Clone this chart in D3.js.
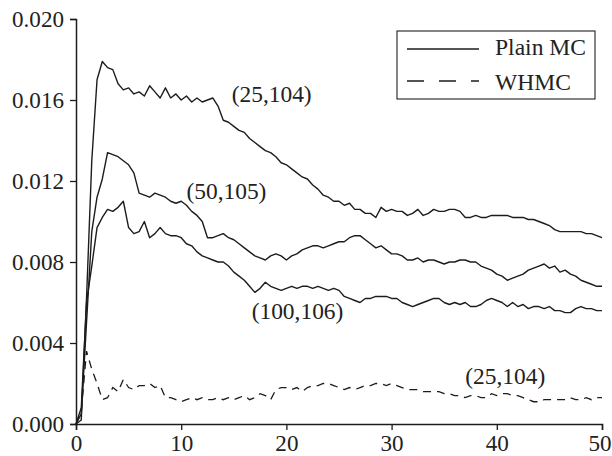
<!DOCTYPE html>
<html>
<head>
<meta charset="utf-8">
<script src="https://cdn.jsdelivr.net/npm/d3@7"></script>
<style>
  html, body { margin: 0; padding: 0; background: #fff; }
  svg { display: block; }
  text { font-family: "Liberation Serif", "Times New Roman", Times, "Nimbus Roman", Tinos, serif; fill: #222; }
</style>
</head>
<body>
<svg id="chart" width="612" height="456"></svg>
<script>
// ---- data ----
const tValues = [
  0,0.5,1,1.5,2,2.5,3,3.5,4,4.5,5,5.5,6,6.5,7,7.5,8,8.5,9,9.5,
  10,10.5,11,11.5,12,12.5,13,13.5,14,14.5,15,15.5,16,16.5,17,17.5,18,18.5,19,19.5,
  20,20.5,21,21.5,22,22.5,23,23.5,24,24.5,25,25.5,26,26.5,27,27.5,28,28.5,29,29.5,
  30,30.5,31,31.5,32,32.5,33,33.5,34,34.5,35,35.5,36,36.5,37,37.5,38,38.5,39,39.5,
  40,40.5,41,41.5,42,42.5,43,43.5,44,44.5,45,45.5,46,46.5,47,47.5,48,48.5,49,49.5,50
];
// Plain MC (25,104)
const plain25 = [
  0,0.0002,0.0062,0.0130,0.0170,0.0179,0.0176,0.0175,0.0168,0.0165,0.0166,0.0163,0.0164,0.0162,0.0167,0.0164,0.0161,0.0166,0.0161,0.0163,
  0.0160,0.0162,0.0159,0.0161,0.0159,0.0160,0.0161,0.0157,0.0150,0.0149,0.0147,0.0145,0.0144,0.0141,0.0139,0.0137,0.0135,0.0134,0.0132,0.0129,
  0.0128,0.0126,0.0124,0.0122,0.0121,0.0118,0.0116,0.0113,0.0112,0.0110,0.0110,0.0108,0.0109,0.0106,0.0106,0.0104,0.0104,0.0102,0.0107,0.0105,
  0.0106,0.0105,0.0105,0.0103,0.0104,0.0106,0.0103,0.0104,0.0106,0.0105,0.0105,0.0106,0.0106,0.0105,0.0102,0.0102,0.0103,0.0102,0.0102,0.0103,
  0.0103,0.0103,0.0103,0.0102,0.0102,0.0102,0.0101,0.0101,0.0100,0.0099,0.0098,0.0096,0.0095,0.0095,0.0095,0.0095,0.0095,0.0094,0.0094,0.0093,0.0092
];
// Plain MC (50,105)
const plain50 = [
  0,0.0005,0.0050,0.0095,0.0112,0.0121,0.0134,0.0133,0.0132,0.0130,0.0128,0.0124,0.0114,0.0113,0.0112,0.0114,0.0113,0.0112,0.0110,0.0109,
  0.0110,0.0108,0.0105,0.0103,0.0100,0.0092,0.0092,0.0093,0.0094,0.0092,0.0091,0.0089,0.0087,0.0085,0.0083,0.0082,0.0081,0.0083,0.0084,0.0083,
  0.0081,0.0083,0.0084,0.0086,0.0087,0.0088,0.0088,0.0087,0.0088,0.0089,0.0090,0.0090,0.0092,0.0093,0.0093,0.0091,0.0089,0.0087,0.0088,0.0086,
  0.0084,0.0084,0.0083,0.0081,0.0081,0.0082,0.0080,0.0081,0.0081,0.0080,0.0079,0.0080,0.0080,0.0081,0.0081,0.0080,0.0080,0.0078,0.0077,0.0076,
  0.0074,0.0073,0.0071,0.0072,0.0073,0.0074,0.0076,0.0077,0.0078,0.0079,0.0077,0.0078,0.0075,0.0076,0.0074,0.0073,0.0071,0.0070,0.0069,0.0068,0.0068
];
// Plain MC (100,106)
const plain100 = [
  0,0.0008,0.0060,0.0078,0.0097,0.0102,0.0106,0.0105,0.0107,0.0110,0.0097,0.0094,0.0095,0.0100,0.0092,0.0094,0.0097,0.0094,0.0093,0.0093,
  0.0092,0.0089,0.0088,0.0085,0.0083,0.0082,0.0081,0.0080,0.0080,0.0078,0.0075,0.0073,0.0071,0.0068,0.0065,0.0067,0.0070,0.0068,0.0067,0.0066,
  0.0067,0.0068,0.0067,0.0068,0.0068,0.0067,0.0068,0.0067,0.0066,0.0067,0.0066,0.0063,0.0062,0.0061,0.0060,0.0062,0.0062,0.0063,0.0063,0.0063,
  0.0062,0.0062,0.0060,0.0059,0.0058,0.0059,0.0060,0.0061,0.0062,0.0062,0.0060,0.0059,0.0060,0.0059,0.0060,0.0058,0.0058,0.0059,0.0061,0.0062,
  0.0061,0.0060,0.0058,0.0060,0.0058,0.0059,0.0057,0.0058,0.0058,0.0057,0.0058,0.0056,0.0056,0.0055,0.0055,0.0057,0.0058,0.0057,0.0057,0.0056,0.0056
];
// WHMC (25,104)
const whmc25 = [
  0,0.0006,0.0036,0.0027,0.0020,0.0012,0.0013,0.0018,0.0016,0.0022,0.0018,0.0017,0.0019,0.0019,0.0020,0.0018,0.0019,0.0013,0.0013,0.0012,
  0.0011,0.0012,0.0013,0.0012,0.0013,0.0012,0.0012,0.0013,0.0012,0.0013,0.0012,0.0013,0.0014,0.0012,0.0013,0.0015,0.0014,0.0012,0.0017,0.0018,
  0.0018,0.0017,0.0018,0.0016,0.0018,0.0019,0.0019,0.0020,0.0020,0.0019,0.0018,0.0017,0.0018,0.0017,0.0018,0.0019,0.0019,0.0020,0.0020,0.0019,
  0.0020,0.0019,0.0018,0.0017,0.0017,0.0017,0.0016,0.0016,0.0016,0.0016,0.0015,0.0015,0.0014,0.0014,0.0013,0.0014,0.0014,0.0013,0.0013,0.0015,
  0.0014,0.0015,0.0015,0.0014,0.0014,0.0013,0.0012,0.0011,0.0011,0.0012,0.0012,0.0012,0.0012,0.0012,0.0013,0.0012,0.0012,0.0013,0.0012,0.0013,0.0013
];
const xTicks = [0, 10, 20, 30, 40, 50];
const yTicks = [0, 0.004, 0.008, 0.012, 0.016, 0.020];
const seriesNames = ["Plain MC", "WHMC"];
const annotations = [
  { label: "(25,104)", t: 14.8, v: 0.0159 },
  { label: "(50,105)", t: 10.5, v: 0.0111 },
  { label: "(100,106)", t: 16.7, v: 0.0052 },
  { label: "(25,104)", t: 37.0, v: 0.0020 }
];

// ---- chart ----
const svg = d3.select("#chart");
const x = d3.scaleLinear().domain([0, 50]).range([76, 602]);
const y = d3.scaleLinear().domain([0, 0.020]).range([424, 19]);
const ink = "#1c1c1c";
const serif = '"Liberation Serif", "Times New Roman", Times, "Nimbus Roman", Tinos, serif';

// pick a font size so that a sample string has the wanted width
function fitSize(sample, base, target) {
  const t = svg.append("text").style("font-family", serif).style("font-size", base + "px").text(sample);
  const w = t.node().getComputedTextLength();
  t.remove();
  if (!w) return base;
  return Math.max(base * 0.8, Math.min(base * 1.2, base * target / w));
}
const tickSize = fitSize("0.020", 23, 52);
const annSize = fitSize("(25,104)", 23, 80);
const legSize = fitSize("Plain MC", 24, 91);

const yAxis = svg.append("g").attr("transform", "translate(76,0)")
  .call(d3.axisLeft(y).tickValues(yTicks).tickFormat(d3.format(".3f")).tickSize(6).tickPadding(6));
const xAxis = svg.append("g").attr("transform", "translate(0,424)")
  .call(d3.axisBottom(x).tickValues(xTicks).tickFormat(d3.format("d")).tickSize(6).tickPadding(5));
[yAxis, xAxis].forEach(g => {
  g.attr("font-family", serif);
  g.select(".domain").attr("stroke", ink).attr("stroke-width", 1.5);
  g.selectAll(".tick line").attr("stroke", ink).attr("stroke-width", 1.3);
  g.selectAll(".tick text").attr("fill", "#222")
    .style("font-family", serif).style("font-size", tickSize + "px");
});
xAxis.selectAll(".tick text").attr("dy", "0.71em");
// keep the last x label inside the frame
xAxis.selectAll(".tick").filter(d => d === 50).select("text")
  .attr("text-anchor", "end").attr("x", 9);

const line = d3.line().x((d, i) => x(tValues[i])).y(d => y(d));

[plain25, plain50, plain100].forEach(s => {
  svg.append("path").datum(s).attr("d", line)
    .attr("fill", "none").attr("stroke", ink).attr("stroke-width", 1.4)
    .attr("stroke-linejoin", "round");
});
svg.append("path").datum(whmc25).attr("d", line)
  .attr("fill", "none").attr("stroke", ink).attr("stroke-width", 1.3)
  .attr("stroke-dasharray", "8,6");

// annotations
annotations.forEach(a => {
  svg.append("text").attr("x", x(a.t)).attr("y", y(a.v))
    .style("font-size", annSize + "px")
    .text(a.label);
});

// legend
const lg = svg.append("g");
lg.append("rect").attr("x", 397).attr("y", 31).attr("width", 198).attr("height", 68)
  .attr("fill", "#fff").attr("stroke", "#333").attr("stroke-width", 1.2);
lg.append("line").attr("x1", 407).attr("x2", 479).attr("y1", 49).attr("y2", 49)
  .attr("stroke", ink).attr("stroke-width", 1.3);
lg.append("line").attr("x1", 407).attr("x2", 479).attr("y1", 81).attr("y2", 81)
  .attr("stroke", ink).attr("stroke-width", 1.3).attr("stroke-dasharray", "17,15");
lg.append("text").attr("x", 495).attr("y", 55).style("font-size", legSize + "px").text(seriesNames[0]);
lg.append("text").attr("x", 495).attr("y", 90).style("font-size", legSize + "px").text(seriesNames[1]);
</script>
</body>
</html>
